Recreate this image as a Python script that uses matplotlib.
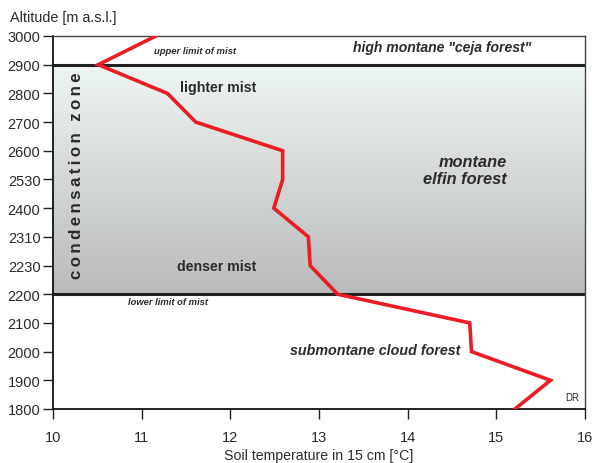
import matplotlib.pyplot as plt
import numpy as np
from matplotlib.colors import LinearSegmentedColormap

# altitude levels (equally spaced on the chart) and soil temperature at 15 cm
altitudes = [3000, 2900, 2800, 2700, 2600, 2530, 2400, 2310, 2230, 2200, 2100, 2000, 1900, 1800]
soil_temp = [11.16, 10.51, 11.29, 11.61, 12.59, 12.59, 12.49, 12.88, 12.90, 13.21, 14.70, 14.72, 15.61, 15.21]
x_ticks = [10, 11, 12, 13, 14, 15, 16]

plt.rcParams['font.family'] = ['Liberation Sans', 'DejaVu Sans']
TXT = '#2b2b2b'

n = len(altitudes)
ypos = np.arange(n)[::-1]  # 3000 on top
pos = dict(zip(altitudes, ypos))

fig = plt.figure(figsize=(5.92, 4.64), dpi=100)
ax = fig.add_axes([53 / 592, 1 - 410 / 464, 532 / 592, 373 / 464])
ax.set_xlim(10, 16)
ax.set_ylim(0, n - 1)

# mist zone gradient between 2900 and 2200
cmap = LinearSegmentedColormap.from_list('mist', ['#eef6f2', '#b9babc'])
grad = np.linspace(0, 1, 256).reshape(-1, 1)
ax.imshow(grad, cmap=cmap, aspect='auto', extent=[10, 16, pos[2200], pos[2900]],
          origin='upper', zorder=0)

ax.axhline(pos[2900], color='#222222', lw=2.2, zorder=2)
ax.axhline(pos[2200], color='#222222', lw=2.2, zorder=2)

ax.plot(soil_temp, ypos, color='#ec1c24', lw=2.6, zorder=3, solid_joinstyle='miter')

ax.set_yticks(ypos)
ax.set_yticklabels([str(a) for a in altitudes])
ax.set_xticks(x_ticks)
ax.tick_params(axis='both', direction='out', length=7, width=1, colors='#222222',
               labelsize=10.5, labelcolor=TXT)
ax.tick_params(axis='x', pad=8)
ax.tick_params(axis='y', pad=2)
for s in ['left', 'bottom']:
    ax.spines[s].set_linewidth(1.3)
    ax.spines[s].set_color('#111111')
for s in ['top', 'right']:
    ax.spines[s].set_linewidth(1.0)
    ax.spines[s].set_color('#444444')

ax.set_xlabel('Soil temperature in 15 cm [°C]', fontsize=10.2, color=TXT, labelpad=3)
fig.text(10 / 592, 1 - 18 / 464, 'Altitude [m a.s.l.]', fontsize=10.4, color=TXT,
         va='center', ha='left')

# annotations
ax.text(11.6, 12.5, 'upper limit of mist', fontsize=6.8, style='italic', weight='bold',
        color=TXT, ha='center', va='center')
ax.text(14.39, 12.62, 'high montane "ceja forest"', fontsize=10.1, style='italic',
        weight='bold', color=TXT, ha='center', va='center')
ax.text(11.86, 11.23, 'lighter mist', fontsize=10.2, weight='bold', color=TXT,
        ha='center', va='center')
ax.text(15.12, 8.33, 'montane\nelfin forest', fontsize=11.8, style='italic', weight='bold',
        color=TXT, ha='right', va='center', linespacing=1.1)
ax.text(11.84, 5.0, 'denser mist', fontsize=10.2, weight='bold', color=TXT,
        ha='center', va='center')
ax.text(11.3, 3.75, 'lower limit of mist', fontsize=6.75, style='italic', weight='bold',
        color=TXT, ha='center', va='center')
ax.text(13.63, 2.06, 'submontane cloud forest', fontsize=10.3, style='italic',
        weight='bold', color=TXT, ha='center', va='center')
ax.text(15.94, 0.42, 'DR', fontsize=7, color=TXT, ha='right', va='center')

zone = '\u2009'.join('condensation zone')
ax.text(10.26, 8.16, zone, fontsize=12.2, weight='bold', rotation=90, color=TXT,
        ha='center', va='center')

fig.savefig('out.png', dpi=100)
